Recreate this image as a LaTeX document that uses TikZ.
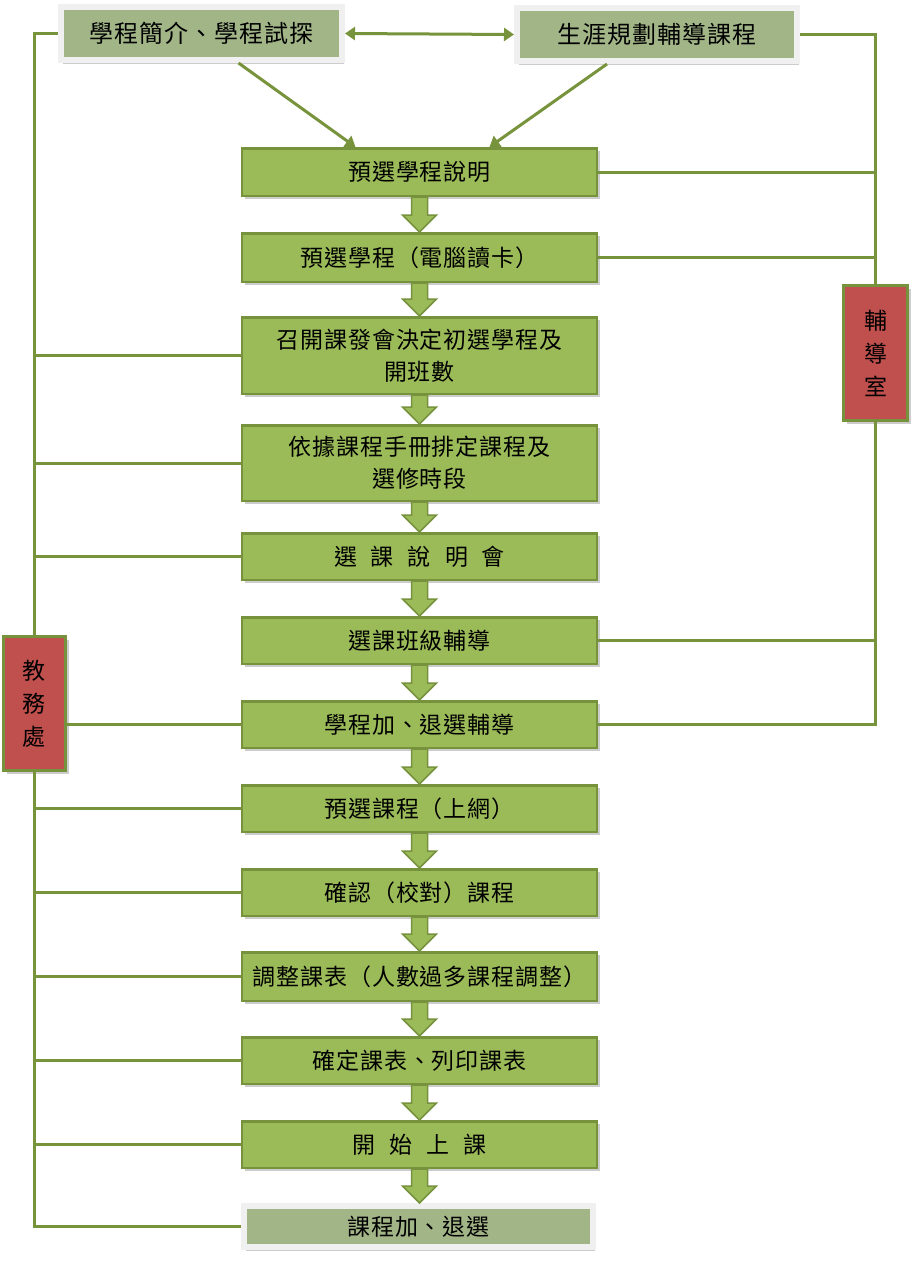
\documentclass[tikz,border=0pt]{standalone}
\usepackage{fontspec}
\setmainfont{Noto Sans CJK TC}[LetterSpace=4]
\usetikzlibrary{shadows,arrows.meta,calc}
\definecolor{mainfill}{HTML}{9BBB59}
\definecolor{mainline}{HTML}{76923C}
\definecolor{topfill}{HTML}{A2B587}
\definecolor{redfill}{HTML}{C0504D}
\definecolor{connc}{HTML}{77933C}
\newcommand\gapsp{\hspace{14pt}}
\newcommand\flowarrow[2]{\path[flowarr] let \p1=(#1.south), \p2=(#2.north) in
  (\x1-8pt,\y1) -- (\x1-8pt,\y2+17pt) -- (\x1-17pt,\y2+17pt) -- (\x1,\y2) --
  (\x1+17pt,\y2+17pt) -- (\x1+8pt,\y2+17pt) -- (\x1+8pt,\y1) -- cycle;}
\begin{document}
\begin{tikzpicture}[x=1pt,y=-1pt,
  mainbox/.style={draw=mainline, line width=2.5pt, fill=mainfill, minimum width=355pt,
    inner sep=0pt, align=center, font=\fontsize{23}{32}\selectfont,
    drop shadow={shadow xshift=3pt, shadow yshift=-3pt, fill=black!40, opacity=0.5}},
  topbox/.style={draw=white!94!black, line width=6pt, fill=topfill, inner sep=0pt,
    align=center, font=\fontsize{24}{30}\selectfont,
    drop shadow={shadow xshift=2pt, shadow yshift=-4pt, fill=black!40, opacity=0.5}},
  redbox/.style={draw=mainline, line width=3pt, fill=redfill, inner sep=0pt,
    align=center, font=\fontsize{23}{33}\selectfont,
    drop shadow={shadow xshift=3pt, shadow yshift=-3pt, fill=black!40, opacity=0.5}},
  connline/.style={draw=connc, line width=3pt},
  flowarr/.style={fill=mainfill, draw=mainline, line width=1.5pt, line join=miter},
  tipped/.style={connline, -{Triangle[width=13pt,length=10pt]}},
  ]
\useasboundingbox (0,0) rectangle (912,1282);

% top boxes
\node[topbox, minimum width=281pt, minimum height=53pt] (tl) at (201.5,33.5) {學程簡介、學程試探};
\node[topbox, minimum width=280pt, minimum height=53pt] (tr) at (657,34.5) {生涯規劃輔導課程};

% main flow
\node[mainbox, minimum height=47.5pt] (b1) at (419.5,172) {預選學程說明};
\node[mainbox, minimum height=48.5pt] (b2) at (419.5,257.5) {預選學程（電腦讀卡）};
\node[mainbox, minimum height=76.5pt] (b3) at (419.5,355.5) {召開課發會決定初選學程及\\開班數};
\node[mainbox, minimum height=75.5pt] (b4) at (419.5,463) {依據課程手冊排定課程及\\選修時段};
\node[mainbox, minimum height=46.5pt] (b5) at (419.5,556.5) {選\gapsp 課\gapsp 說\gapsp 明\gapsp 會};
\node[mainbox, minimum height=46.5pt] (b6) at (419.5,640.5) {選課班級輔導};
\node[mainbox, minimum height=46.5pt] (b7) at (419.5,724.5) {學程加、退選輔導};
\node[mainbox, minimum height=46.5pt] (b8) at (419.5,808.5) {預選課程（上網）};
\node[mainbox, minimum height=46.5pt] (b9) at (419.5,892.5) {確認（校對）課程};
\node[mainbox, minimum height=48.5pt] (b10) at (419.5,976.5) {調整課表（人數過多課程調整）};
\node[mainbox, minimum height=46.5pt] (b11) at (419.5,1060.5) {確定課表、列印課表};
\node[mainbox, minimum height=46.5pt] (b12) at (419.5,1144.5) {開\gapsp 始\gapsp 上\gapsp 課};
\node[topbox, minimum width=349pt, minimum height=41pt, font=\fontsize{23}{30}\selectfont] (b13) at (418.5,1226.5) {課程加、退選};

% side boxes
\node[redbox, minimum width=62pt, minimum height=134pt] (jw) at (34.5,703.5) {教\\務\\處};
\node[redbox, minimum width=64pt, minimum height=135pt] (fd) at (875.5,353) {輔\\導\\室};

% flow arrows
\flowarrow{b1}{b2}
\flowarrow{b2}{b3}
\flowarrow{b3}{b4}
\flowarrow{b4}{b5}
\flowarrow{b5}{b6}
\flowarrow{b6}{b7}
\flowarrow{b7}{b8}
\flowarrow{b8}{b9}
\flowarrow{b9}{b10}
\flowarrow{b10}{b11}
\flowarrow{b11}{b12}
\flowarrow{b12}{b13}

% top arrows
\draw[connline, {Triangle[width=13pt,length=10pt]}-{Triangle[width=13pt,length=10pt]}] (tl.east) -- (tr.west);
\draw[tipped] ([xshift=37pt]tl.south) -- ([xshift=-64pt]b1.north);
\draw[tipped] ([xshift=-50pt]tr.south) -- ([xshift=70pt]b1.north);

% left connectors
\draw[connline] (tl.west) -| (jw.north);
\draw[connline] (jw.south) |- (b13.west);
\foreach \b in {b3,b4,b5,b8,b9,b10,b11,b12}
  \draw[connline] (\b.west) -- (\b.west -| jw.north);
\draw[connline] (b7.west) -- (b7.west -| jw.east);

% right connectors
\draw[connline] (tr.east) -| (fd.north);
\draw[connline] (fd.south) |- (b7.east);
\foreach \b in {b1,b2,b6}
  \draw[connline] (\b.east) -- (\b.east -| fd.north);
\end{tikzpicture}
\end{document}
